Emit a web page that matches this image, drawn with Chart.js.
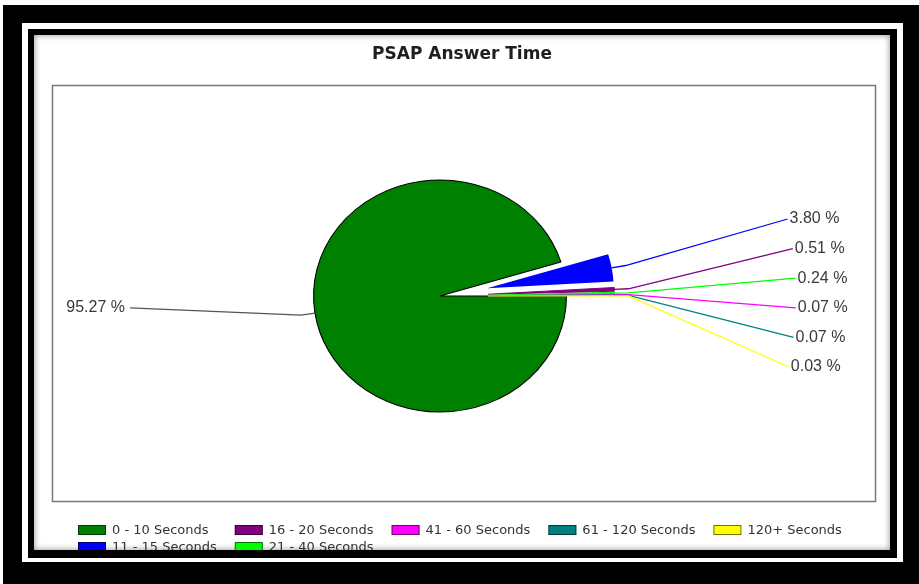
<!DOCTYPE html>
<html><head><meta charset="utf-8">
<script src="https://cdn.jsdelivr.net/npm/chart.js@4.4.1/dist/chart.umd.min.js"></script>
<style>
html,body{margin:0;padding:0;background:#fff;width:919px;height:584px;overflow:hidden;}
.f{position:absolute;}
#f1{left:3px;top:5px;width:916px;height:579px;background:#000;}
#f2{left:22px;top:23px;width:881px;height:539px;background:#fff;}
#f3{left:28px;top:29px;width:869px;height:529px;background:#000;}
#panel{left:34px;top:35px;width:856px;height:515px;background:#fff;overflow:hidden;box-shadow:inset 0 0 6px rgba(0,0,0,0.45);}
canvas{position:absolute;left:0;top:0;}
</style></head>
<body>
<div class="f" id="f1"></div><div class="f" id="f2"></div><div class="f" id="f3"></div>
<div class="f" id="panel"><canvas id="c" width="856" height="515"></canvas></div>
<script>
// ---- data ----
const chartTitle = 'PSAP Answer Time';
const categories = ['0 - 10 Seconds', '11 - 15 Seconds', '16 - 20 Seconds', '21 - 40 Seconds', '41 - 60 Seconds', '61 - 120 Seconds', '120+ Seconds'];
const percentages = [95.27, 3.80, 0.51, 0.24, 0.07, 0.07, 0.03];
const sliceColors = ['#008000', '#0000ff', '#800080', '#00ff00', '#ff00ff', '#008080', '#ffff00'];

// ---- layout constants ----
const W = 856, H = 515;
const CX = 406, CY = 261, RADIUS = 116, SX = 1.09, EXPLODE = 44;
const ROW_H = 29.6, LABEL_R = 357;
const toPage = (x, y) => [CX + (x - CX) * SX, y];

const psapPlugin = {
  id: 'psap',
  afterDatasetUpdate(chart, args) {
    args.meta.data.forEach((arc, i) => {
      if (i === 0) return;
      const mid = (arc.startAngle + arc.endAngle) / 2;
      arc.x += Math.cos(mid) * EXPLODE;
      arc.y += Math.sin(mid) * EXPLODE;
    });
  },
  beforeDraw(chart) {
    const ctx = chart.ctx;
    ctx.save();
    ctx.strokeStyle = '#7a7a7a';
    ctx.lineWidth = 1.5;
    ctx.strokeRect(18.5, 50.5, 823, 416);
    ctx.fillStyle = '#1e1e1e';
    ctx.font = 'bold 17px "DejaVu Sans"';
    ctx.textAlign = 'center';
    ctx.textBaseline = 'middle';
    ctx.fillText(chartTitle, W / 2, 20);
    ctx.restore();
  },
  beforeDatasetsDraw(chart) {
    const ctx = chart.ctx;
    ctx.save();
    ctx.translate(CX, CY);
    ctx.scale(SX, 1);
    ctx.translate(-CX, -CY);
  },
  afterDatasetsDraw(chart) {
    chart.ctx.restore();
  },
  afterDraw(chart) {
    const ctx = chart.ctx;
    const arcs = chart.getDatasetMeta(0).data;
    const vals = chart.data.datasets[0].data;
    const rightIdx = [], leftIdx = [];
    arcs.forEach((arc, i) => {
      const mid = (arc.startAngle + arc.endAngle) / 2;
      (Math.cos(mid) >= 0 ? rightIdx : leftIdx).push(i);
    });
    const base = CY - 3 - (rightIdx.length - 1) / 2 * ROW_H;
    ctx.save();
    ctx.font = '16px "Liberation Sans"';
    ctx.textBaseline = 'middle';
    const drawLeader = (i, ex, ey, color) => {
      const arc = arcs[i];
      const mid = (arc.startAngle + arc.endAngle) / 2;
      const p0 = toPage(arc.x + Math.cos(mid) * RADIUS, arc.y + Math.sin(mid) * RADIUS);
      const p1 = toPage(arc.x + Math.cos(mid) * (RADIUS + 13), arc.y + Math.sin(mid) * (RADIUS + 13));
      ctx.strokeStyle = color;
      ctx.lineWidth = 1.3;
      ctx.beginPath();
      ctx.moveTo(p0[0], p0[1]);
      ctx.lineTo(p1[0], p1[1]);
      ctx.lineTo(ex, ey);
      ctx.stroke();
    };
    rightIdx.forEach((i, k) => {
      const ly = base + k * ROW_H;
      const dy = ly - CY;
      const lx = CX + Math.sqrt(LABEL_R * LABEL_R - dy * dy);
      drawLeader(i, lx - 1, ly, sliceColors[i]);
      ctx.fillStyle = '#3a3a3a';
      ctx.textAlign = 'left';
      ctx.fillText(vals[i].toFixed(2) + ' %', lx + 1, ly);
    });
    leftIdx.forEach((i) => {
      const arc = arcs[i];
      const mid = (arc.startAngle + arc.endAngle) / 2;
      const ny = arc.y + Math.sin(mid) * (RADIUS + 13);
      const k = Math.round((ny - base) / ROW_H);
      const ly = base + k * ROW_H;
      const lx = CX - 310;
      drawLeader(i, lx, ly, '#555555');
      ctx.fillStyle = '#3a3a3a';
      ctx.textAlign = 'right';
      ctx.fillText(vals[i].toFixed(2) + ' %', lx - 5, ly);
    });

    // legend grid (column-major, 5 columns x 2 rows)
    const labels = chart.data.labels;
    const nCols = 5;
    const perCol = Math.floor(labels.length / nCols);
    const extra = labels.length % nCols;
    ctx.font = '13px "DejaVu Sans"';
    let idx = 0, x = 44;
    for (let c = 0; c < nCols; c++) {
      const cnt = perCol + (c < extra ? 1 : 0);
      let maxW = 0;
      for (let r = 0; r < cnt; r++) {
        const li = idx + r;
        const y = 490 + r * 17;
        ctx.fillStyle = sliceColors[li];
        ctx.fillRect(x, y, 28, 10);
        ctx.strokeStyle = 'rgba(0,0,0,0.55)';
        ctx.lineWidth = 1;
        ctx.strokeRect(x + 0.5, y + 0.5, 27, 9);
        ctx.fillStyle = '#333333';
        ctx.textAlign = 'left';
        ctx.fillText(labels[li], x + 34, y + 5.5);
        maxW = Math.max(maxW, ctx.measureText(labels[li]).width);
      }
      idx += cnt;
      x += 34 + maxW + 18;
    }
    ctx.restore();
  }
};

new Chart(document.getElementById('c'), {
  type: 'pie',
  data: {
    labels: categories,
    datasets: [{
      data: percentages,
      backgroundColor: sliceColors,
      borderColor: ['#000000', '#0000ff', '#800080', '#00ff00', '#ff00ff', '#008080', '#ffff00'],
      borderWidth: [1, 0, 1, 1, 1, 1, 1],
      radius: RADIUS
    }]
  },
  options: {
    responsive: false,
    animation: false,
    events: [],
    rotation: 90,
    layout: { padding: { left: 206, right: 250, top: 61, bottom: 54 } },
    plugins: { legend: { display: false }, title: { display: false }, tooltip: { enabled: false } }
  },
  plugins: [psapPlugin]
});
</script>
</body></html>
